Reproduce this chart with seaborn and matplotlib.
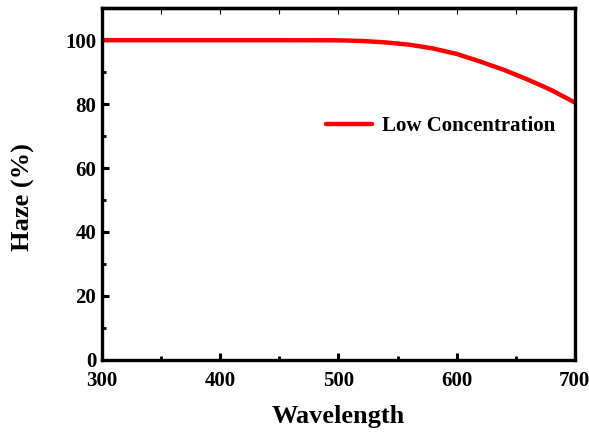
import numpy as np
import pandas as pd
import matplotlib
matplotlib.use("Agg")
import matplotlib.pyplot as plt
import seaborn as sns

# datos
wavelength = [300, 350, 400, 450, 500, 520, 540, 560, 580, 600, 620, 640, 660, 680, 700]
haze = [100.0, 100.0, 100.0, 100.0, 99.95, 99.75, 99.3, 98.6, 97.4, 95.7, 93.3, 90.7, 87.7, 84.4, 80.5]
serie = "Low Concentration"

df = pd.DataFrame({"Wavelength": wavelength, "Haze": haze, "serie": serie})

sns.set_style("ticks")
plt.rcParams['font.family'] = 'serif'
plt.rcParams['font.serif'] = ['Liberation Serif']
plt.rcParams['font.weight'] = 'bold'
plt.rcParams['text.color'] = 'black'
plt.rcParams['axes.labelcolor'] = 'black'
plt.rcParams['xtick.color'] = 'black'
plt.rcParams['ytick.color'] = 'black'

fig = plt.figure(figsize=(5.89, 4.32), dpi=100)
ax = fig.add_axes([0.173, 0.167, 0.803, 0.814])

sns.lineplot(data=df, x="Wavelength", y="Haze", hue="serie", palette=["#ff0000"],
             linewidth=3.2, ax=ax)

ax.set_xlim(300, 700)
ax.set_ylim(0, 110)
ax.set_xticks([300, 400, 500, 600, 700])
ax.set_xticks([350, 450, 550, 650], minor=True)
ax.set_yticks([0, 20, 40, 60, 80, 100])
ax.set_yticks([10, 30, 50, 70, 90], minor=True)

for s in ax.spines.values():
    s.set_linewidth(2.4)
    s.set_color("black")

ax.tick_params(which='major', direction='in', length=5, width=2.2, labelsize=15)
ax.tick_params(axis='x', which='major', pad=8)
ax.tick_params(axis='y', which='major', pad=4)
ax.tick_params(which='minor', direction='in', length=3, width=2.0)
for lab in ax.get_xticklabels() + ax.get_yticklabels():
    lab.set_fontweight('bold')
    lab.set_family('Liberation Serif')

# ticks finos arriba
sec = ax.secondary_xaxis('top')
sec.set_xticks([350, 400, 450, 500, 550, 600, 650])
sec.tick_params(direction='in', length=4, width=0.8, labeltop=False)
sec.spines['top'].set_linewidth(2.4)

ax.set_xlabel("Wavelength", fontsize=19, fontweight='bold', family='Liberation Serif', labelpad=10)
ax.set_ylabel("Haze (%)", fontsize=19, fontweight='bold', family='Liberation Serif')
ax.yaxis.set_label_coords(-0.142, 0.463)

leg = ax.legend(loc='center right', bbox_to_anchor=(0.99, 0.665), frameon=False,
                prop={'weight': 'bold', 'size': 15, 'family': 'Liberation Serif'},
                handlelength=2.2, handletextpad=0.5, borderpad=0.2)

fig.savefig("out.png", dpi=100)
